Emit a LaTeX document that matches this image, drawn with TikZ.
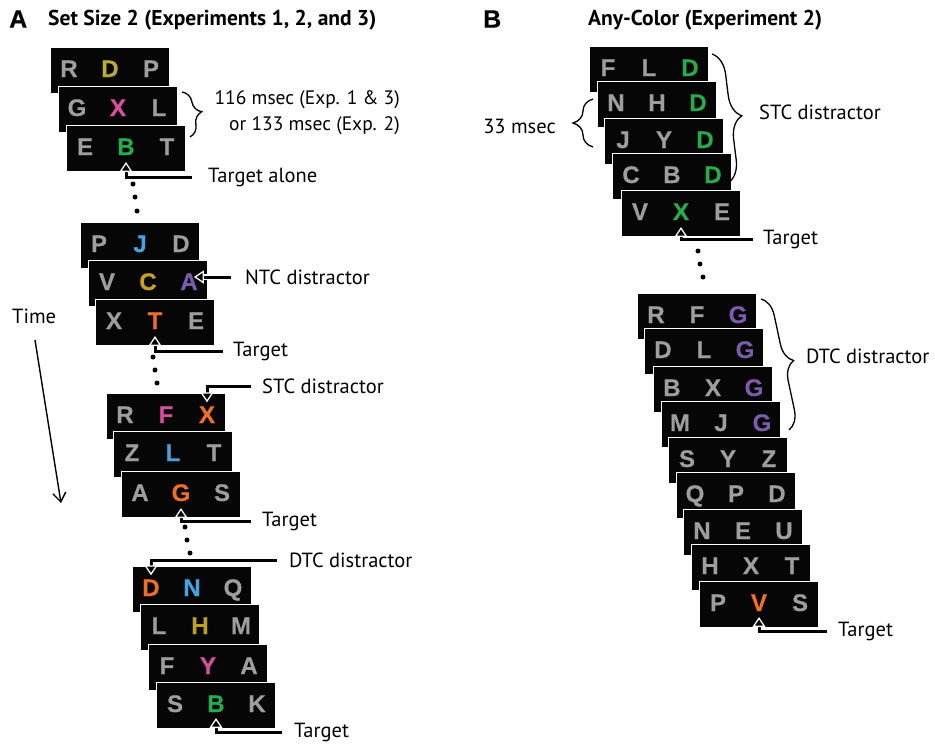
\documentclass[tikz,border=0pt]{standalone}
\usepackage{fontspec}
\setmainfont{PT Sans}
\newfontfamily\lfont{Liberation Sans Bold}[FakeBold=0.5]
\usetikzlibrary{arrows.meta,decorations.pathreplacing,calc}
\definecolor{lg}{RGB}{158,158,158}
\definecolor{grn}{RGB}{40,172,75}
\definecolor{olv}{RGB}{185,172,52}
\definecolor{olv2}{RGB}{190,160,40}
\definecolor{mag}{RGB}{218,78,158}
\definecolor{blu}{RGB}{72,162,222}
\definecolor{gold}{RGB}{200,160,40}
\definecolor{pur}{RGB}{122,92,172}
\definecolor{org}{RGB}{240,110,38}
\definecolor{frm}{RGB}{6,6,6}
\tikzset{
  frame/.style={fill=frm, draw=white, line width=1.3pt, minimum width=119pt, minimum height=46pt, inner sep=0pt, anchor=north west},
  ltr/.style={font=\lfont\fontsize{24}{24}\selectfont, anchor=base, inner sep=0pt},
  lbl/.style={font=\fontsize{20.5}{26}\selectfont, anchor=west, inner sep=0pt},
  ttl/.style={font=\bfseries\fontsize{21.5}{24}\selectfont, anchor=west, inner sep=0pt},
  big/.style={font=\lfont\fontsize{25}{28}\selectfont, anchor=west, inner sep=0pt},
  ptr/.style={line width=3pt, -{Triangle[color=white,fill=black,line width=1.3pt,length=10pt,width=13pt]},
    preaction={draw=white, line width=5.6pt, -, shorten >=9pt}},
  brc/.style={decorate, decoration={brace, amplitude=#1}, line width=1.3pt},
  dot/.style={circle, fill=black, inner sep=0pt, minimum size=5pt},
  timearr/.style={line width=1.4pt, -{Straight Barb[length=9pt,width=13pt,line width=1.4pt]}},
}
\newcommand\Frm[9]{%
  \node[frame] (#1) at (#2,#3) {};
  \node[ltr, text=#4] (#1-1) at ($(#1.north west)+(19,30)$) {#5};
  \node[ltr, text=#6] (#1-2) at ($(#1.north west)+(60,30)$) {#7};
  \node[ltr, text=#8] (#1-3) at ($(#1.north west)+(101,30)$) {#9};
}
\begin{document}
\begin{tikzpicture}[x=1pt,y=-1pt]
\useasboundingbox (0,0) rectangle (935,744);
% ---------- titles
\node[big] (tA) at (9,19) {A};
\node[ttl] (ttA) at (48,20) {Set Size 2 (Experiments 1, 2, and 3)};
\node[big] (tB) at (483,19) {B};
\node[ttl] (ttB) at (588,20) {Any-Color (Experiment 2)};
% ---------- panel A, group 1
\Frm{a1}{50}{47}{lg}{R}{olv}{D}{lg}{P}
\Frm{a2}{58}{86}{lg}{G}{mag}{X}{lg}{L}
\Frm{a3}{66}{125}{lg}{E}{grn}{B}{lg}{T}
\draw[brc=16pt] (182,92) -- (190,137);
\node[lbl, font=\fontsize{19.5}{26}\selectfont, align=right, anchor=east] (dur) at (400,113) {116 msec (Exp. 1 \& 3)\\or 133 msec (Exp. 2)};
\node[lbl] (lt1) at (208,177) {Target alone};
\draw[ptr] ([xshift=-16pt]lt1.west) -| ([yshift=-7pt]a3-2.base);
\node[dot] (da1) at (133,184) {};
\node[dot] (da2) at (135,197) {};
\node[dot] (da3) at (137,211) {};
% ---------- panel A, group 2
\Frm{b1}{80}{222}{lg}{P}{blu}{J}{lg}{D}
\Frm{b2}{88}{260}{lg}{V}{gold}{C}{pur}{A}
\Frm{b3}{95}{299}{lg}{X}{org}{T}{lg}{E}
\node[lbl] (ntc) at (245,277) {NTC distractor};
\draw[ptr] ([xshift=-14pt]ntc.west) -- ([xshift=-4pt]b2-3.east |- ntc.west);
\node[lbl] (lt2) at (233,351) {Target};
\draw[ptr] ([xshift=-10pt]lt2.west) -| ([yshift=-7pt]b3-2.base);
\node[dot] (db1) at (153,357) {};
\node[dot] (db2) at (155,370) {};
\node[dot] (db3) at (157,383) {};
% ---------- panel A, group 3
\Frm{c1}{106}{393}{lg}{R}{mag}{F}{org}{X}
\Frm{c2}{113}{431}{lg}{Z}{blu}{L}{lg}{T}
\Frm{c3}{121}{471}{lg}{A}{org}{G}{lg}{S}
\node[lbl] (stcA) at (262,386) {STC distractor};
\draw[ptr] ([xshift=-11pt]stcA.west) -| ([yshift=4pt]c1-3.north);
\node[lbl] (lt3) at (262,521) {Target};
\draw[ptr] ([xshift=-11pt]lt3.west) -| ([yshift=-7pt]c3-2.base);
\node[dot] (dc1) at (185,527) {};
\node[dot] (dc2) at (187,540) {};
\node[dot] (dc3) at (190,553) {};
% ---------- panel A, group 4
\Frm{e1}{132}{566}{org}{D}{blu}{N}{lg}{Q}
\Frm{e2}{140}{604}{lg}{L}{olv2}{H}{lg}{M}
\Frm{e3}{148}{644}{lg}{F}{mag}{Y}{lg}{A}
\Frm{e4}{156}{682}{lg}{S}{grn}{B}{lg}{K}
\node[lbl] (dtcA) at (289,560) {DTC distractor};
\draw[ptr] ([xshift=-12pt]dtcA.west) -| ([yshift=4pt]e1-1.north);
\node[lbl] (lt4) at (294,732) {Target};
\draw[ptr] ([xshift=-12pt]lt4.west) -| ([yshift=-6pt]e4-2.base);
% ---------- time arrow
\node[lbl] (time) at (12,316) {Time};
\coordinate (t0) at (35,340);
\coordinate (t1) at (61,503);
\draw[timearr] (t0) -- (t1);
% ---------- panel B, group 1
\Frm{f1}{589}{46}{lg}{F}{lg}{L}{grn}{D}
\Frm{f2}{597}{81}{lg}{N}{lg}{H}{grn}{D}
\Frm{f3}{604}{118}{lg}{J}{lg}{Y}{grn}{D}
\Frm{f4}{612}{153}{lg}{C}{lg}{B}{grn}{D}
\Frm{f5}{621}{190}{lg}{V}{grn}{X}{lg}{E}
\draw[brc=22pt] (712,54) -- (728,183);
\node[lbl] (stcB) at (759,112) {STC distractor};
\draw[brc=20pt] (593,147) -- (593,99);
\node[lbl, anchor=east] (ms33) at (556,126) {33 msec};
\node[lbl] (ltB1) at (763,239) {Target};
\draw[ptr] ([xshift=-10pt]ltB1.west) -| ([yshift=-7pt]f5-2.base);
\node[dot] (dd1) at (698,251) {};
\node[dot] (dd2) at (700,264) {};
\node[dot] (dd3) at (703,277) {};
% ---------- panel B, group 2
\Frm{g1}{637}{293}{lg}{R}{lg}{F}{pur}{G}
\Frm{g2}{644}{328}{lg}{D}{lg}{L}{pur}{G}
\Frm{g3}{653}{366}{lg}{B}{lg}{X}{pur}{G}
\Frm{g4}{661}{401}{lg}{M}{lg}{J}{pur}{G}
\Frm{g5}{668}{437}{lg}{S}{lg}{Y}{lg}{Z}
\Frm{g6}{676}{472}{lg}{Q}{lg}{P}{lg}{D}
\Frm{g7}{683}{509}{lg}{N}{lg}{E}{lg}{U}
\Frm{g8}{691}{544}{lg}{H}{lg}{X}{lg}{T}
\Frm{g9}{699}{581}{lg}{P}{org}{V}{lg}{S}
\draw[brc=19pt] (761,299) -- (789,430);
\node[lbl] (dtcB) at (806,356) {DTC distractor};
\node[lbl] (ltB2) at (838,631) {Target};
\draw[ptr] ([xshift=-11pt]ltB2.west) -| ([yshift=-6pt]g9-2.base);
\end{tikzpicture}
\end{document}
